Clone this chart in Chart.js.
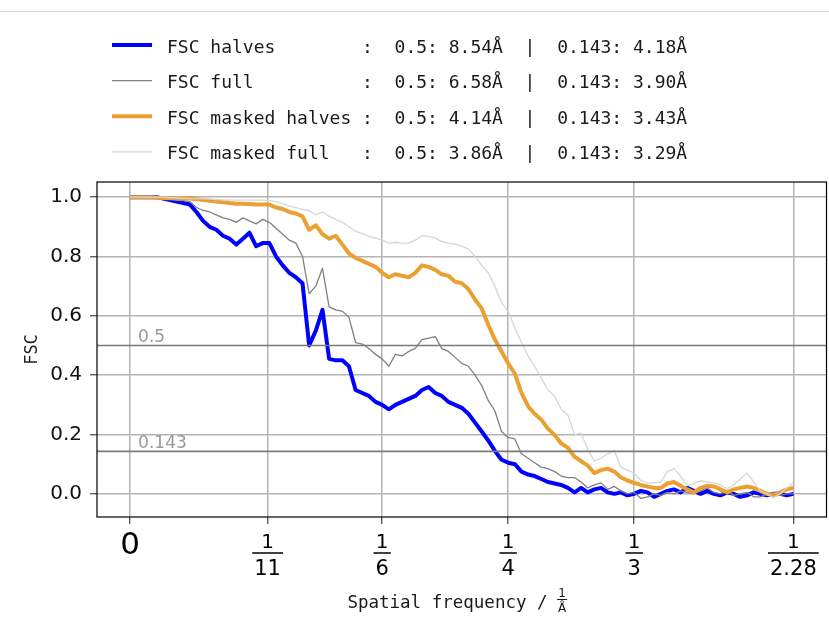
<!DOCTYPE html>
<html>
<head>
<meta charset="utf-8">
<script src="https://cdn.jsdelivr.net/npm/chart.js@4.4.0/dist/chart.umd.min.js"></script>
<style>
  html, body { margin: 0; padding: 0; background: #fff; }
  #wrap { position: relative; width: 829px; height: 628px; }
  #topline { position: absolute; left: 0; top: 11px; width: 829px; height: 1px; background: #d4d4d4; }
  canvas { display: block; }
</style>
</head>
<body>
<div id="wrap">
  <div id="topline"></div>
  <canvas id="fscChart" width="829" height="628"></canvas>
</div>
<script>
// Spatial frequency (1/Å) of each shell
const freq = [
    0, 0.0044, 0.0088, 0.0132, 0.0175, 0.0219, 0.0263, 0.0307, 0.0351, 0.0395,
    0.0439, 0.0482, 0.0526, 0.0570, 0.0614, 0.0658, 0.0702, 0.0746, 0.0789, 0.0833,
    0.0877, 0.0921, 0.0965, 0.1009, 0.1053, 0.1096, 0.1140, 0.1184, 0.1228, 0.1272,
    0.1316, 0.1360, 0.1404, 0.1447, 0.1491, 0.1535, 0.1579, 0.1623, 0.1667, 0.1711,
    0.1754, 0.1798, 0.1842, 0.1886, 0.1930, 0.1974, 0.2018, 0.2061, 0.2105, 0.2149,
    0.2193, 0.2237, 0.2281, 0.2325, 0.2368, 0.2412, 0.2456, 0.2500, 0.2544, 0.2588,
    0.2632, 0.2675, 0.2719, 0.2763, 0.2807, 0.2851, 0.2895, 0.2939, 0.2982, 0.3026,
    0.3070, 0.3114, 0.3158, 0.3202, 0.3246, 0.3289, 0.3333, 0.3377, 0.3421, 0.3465,
    0.3509, 0.3553, 0.3596, 0.3640, 0.3684, 0.3728, 0.3772, 0.3816, 0.3860, 0.3903,
    0.3947, 0.3991, 0.4035, 0.4079, 0.4123, 0.4167, 0.4211, 0.4254, 0.4298, 0.4342,
    0.4386
];

const fscHalves = [
    1.0, 1.0, 1.0, 1.0, 1.0, 0.995, 0.99, 0.985, 0.98, 0.975,
    0.95, 0.92, 0.90, 0.89, 0.87, 0.86, 0.84, 0.86, 0.88, 0.835,
    0.845, 0.845, 0.80, 0.77, 0.745, 0.73, 0.71, 0.50, 0.55, 0.62,
    0.455, 0.45, 0.45, 0.43, 0.35, 0.34, 0.33, 0.31, 0.30, 0.285,
    0.30, 0.31, 0.32, 0.33, 0.35, 0.36, 0.34, 0.33, 0.31, 0.30,
    0.29, 0.27, 0.24, 0.21, 0.18, 0.145, 0.115, 0.105, 0.10, 0.075,
    0.065, 0.06, 0.05, 0.04, 0.035, 0.03, 0.02, 0.005, 0.02, 0.005,
    0.015, 0.02, 0.005, 0.0, 0.005, -0.005, 0.0, 0.01, 0.005, -0.01,
    0.0, 0.01, 0.015, 0.005, 0.02, 0.01, 0.0, 0.01, 0.0, -0.005,
    0.005, 0.0, -0.01, -0.005, 0.005, 0.0, -0.005, 0.0, 0.0, -0.005,
    0.0
];

const fscFull = [
    1.0, 1.0, 1.0, 1.0, 1.0, 0.998, 0.995, 0.99, 0.988, 0.985,
    0.965, 0.955, 0.95, 0.94, 0.93, 0.925, 0.915, 0.93, 0.92, 0.91,
    0.925, 0.915, 0.895, 0.875, 0.855, 0.845, 0.80, 0.675, 0.70, 0.76,
    0.63, 0.62, 0.615, 0.595, 0.51, 0.505, 0.49, 0.47, 0.455, 0.43,
    0.47, 0.465, 0.48, 0.49, 0.52, 0.525, 0.53, 0.49, 0.48, 0.46,
    0.44, 0.43, 0.40, 0.365, 0.315, 0.28, 0.21, 0.19, 0.185, 0.135,
    0.12, 0.105, 0.09, 0.085, 0.075, 0.06, 0.055, 0.055, 0.04, 0.02,
    0.03, 0.037, 0.015, 0.025, 0.01, 0.0, 0.005, -0.015, -0.01, 0.0,
    -0.005, 0.005, 0.0, 0.01, 0.005, 0.0, 0.01, 0.02, 0.005, 0.0,
    0.01, -0.005, 0.0, 0.005, -0.01, -0.01, 0.0, 0.005, -0.005, 0.0,
    0.0
];

const fscMaskedHalves = [
    1.0, 1.0, 1.0, 1.0, 0.998, 0.997, 0.996, 0.995, 0.995, 0.995,
    0.993, 0.99, 0.988, 0.985, 0.983, 0.98, 0.978, 0.978, 0.977, 0.975,
    0.975, 0.975, 0.965, 0.96, 0.95, 0.945, 0.935, 0.89, 0.905, 0.875,
    0.86, 0.87, 0.84, 0.81, 0.795, 0.785, 0.775, 0.765, 0.745, 0.73,
    0.74, 0.735, 0.73, 0.745, 0.77, 0.765, 0.755, 0.74, 0.735, 0.715,
    0.71, 0.69, 0.655, 0.625, 0.57, 0.52, 0.48, 0.44, 0.405, 0.34,
    0.295, 0.27, 0.25, 0.22, 0.198, 0.17, 0.155, 0.125, 0.11, 0.095,
    0.07, 0.08, 0.085, 0.075, 0.055, 0.045, 0.037, 0.03, 0.025, 0.02,
    0.02, 0.035, 0.04, 0.027, 0.015, 0.005, 0.02, 0.027, 0.025, 0.015,
    0.005, 0.015, 0.02, 0.025, 0.02, 0.01, 0.0, -0.005, 0.005, 0.015,
    0.02
];

const fscMaskedFull = [
    1.0, 1.0, 1.0, 1.0, 1.0, 0.999, 0.998, 0.997, 0.996, 0.995,
    0.995, 0.994, 0.993, 0.992, 0.991, 0.99, 0.99, 0.99, 0.99, 0.99,
    0.99, 0.988, 0.985, 0.978, 0.97, 0.965, 0.958, 0.955, 0.94, 0.95,
    0.935, 0.925, 0.915, 0.90, 0.885, 0.878, 0.868, 0.862, 0.855, 0.845,
    0.848, 0.845, 0.845, 0.855, 0.87, 0.868, 0.862, 0.85, 0.845, 0.842,
    0.835, 0.825, 0.80, 0.77, 0.745, 0.70, 0.645, 0.615, 0.56, 0.51,
    0.465, 0.43, 0.39, 0.35, 0.33, 0.285, 0.265, 0.20, 0.205, 0.15,
    0.11, 0.12, 0.135, 0.145, 0.09, 0.08, 0.07, 0.045, 0.037, 0.037,
    0.04, 0.075, 0.085, 0.06, 0.028, 0.035, 0.044, 0.04, 0.037, 0.03,
    0.017, 0.03, 0.05, 0.07, 0.04, 0.01, 0.0, -0.013, 0.0, 0.02,
    0.037
];

// Legend text
const seriesNames = ['FSC halves', 'FSC full', 'FSC masked halves', 'FSC masked full'];
const res05 = ['8.54', '6.58', '4.14', '3.86'];
const res0143 = ['4.18', '3.90', '3.43', '3.29'];

// Threshold lines
const thresholds = [0.5, 0.143];
const thresholdLabels = ['0.5', '0.143'];

// Axis ticks
const xTickValues = [0, 1 / 11, 1 / 6, 1 / 4, 1 / 3, 1 / 2.28];
const xTickNum = ['0', '1', '1', '1', '1', '1'];
const xTickDen = ['', '11', '6', '4', '3', '2.28'];
const yTickValues = [0, 0.2, 0.4, 0.6, 0.8, 1.0];

const X_MIN = -0.0219, X_MAX = 0.4605;
const Y_MIN = -0.078, Y_MAX = 1.051;

function toPoints(ys) {
    return ys.map((y, i) => ({ x: freq[i], y: y }));
}

function curve(idx, ys, color, width, order) {
    return {
        label: seriesNames[idx],
        data: toPoints(ys),
        borderColor: color,
        backgroundColor: color,
        borderWidth: width,
        borderJoinStyle: 'round',
        pointRadius: 0,
        tension: 0,
        order: order,
        legendRow: idx
    };
}

const datasets = [
    curve(0, fscHalves, '#0000ff', 4, 4),
    curve(1, fscFull, '#808080', 1.3, 3),
    curve(2, fscMaskedHalves, '#eaa132', 4, 2),
    curve(3, fscMaskedFull, '#d6d6d6', 1.3, 1)
];
thresholds.forEach((t, k) => {
    datasets.push({
        label: thresholdLabels[k],
        data: [{ x: X_MIN, y: t }, { x: X_MAX, y: t }],
        borderColor: '#7a7a7a',
        borderWidth: 1.7,
        pointRadius: 0,
        order: 0,
        threshold: true
    });
});

// Draws legend, frame, fraction tick labels, axis title and threshold labels
const fscDecor = {
    id: 'fscDecor',
    afterDraw(chart) {
        const ctx = chart.ctx;
        const area = chart.chartArea;
        const xs = chart.scales.x;
        const ys = chart.scales.y;
        ctx.save();

        // frame
        ctx.strokeStyle = '#000';
        ctx.lineWidth = 1.2;
        ctx.strokeRect(area.left, area.top, area.right - area.left, area.bottom - area.top);

        // threshold labels
        ctx.fillStyle = '#9a9a9a';
        ctx.font = '17px "DejaVu Sans"';
        ctx.textAlign = 'left';
        ctx.textBaseline = 'alphabetic';
        thresholds.forEach((t, k) => {
            ctx.fillText(thresholdLabels[k], xs.getPixelForValue(0) + 8, ys.getPixelForValue(t) - 3.5);
        });

        // legend
        chart.data.datasets.forEach(ds => {
            if (ds.legendRow === undefined) return;
            const k = ds.legendRow;
            const y = 45 + k * 35.6;
            ctx.strokeStyle = ds.borderColor;
            ctx.lineWidth = ds.borderWidth;
            ctx.beginPath();
            ctx.moveTo(112, y);
            ctx.lineTo(152, y);
            ctx.stroke();
            const text = seriesNames[k].padEnd(17) + ' :  0.5: ' + res05[k] + 'Å  |  0.143: ' + res0143[k] + 'Å';
            ctx.fillStyle = '#1a1a1a';
            ctx.font = '18px "DejaVu Sans Mono"';
            ctx.textAlign = 'left';
            ctx.fillText(text, 167, y + 7.5);
        });

        // x tick labels as fractions
        const base = area.bottom;
        ctx.fillStyle = '#000';
        ctx.strokeStyle = '#000';
        ctx.textAlign = 'center';
        xTickValues.forEach((v, i) => {
            const px = xs.getPixelForValue(v);
            if (!xTickDen[i]) {
                ctx.font = '31px "DejaVu Sans"';
                ctx.fillText(xTickNum[i], px, base + 37);
                return;
            }
            ctx.font = '20px "DejaVu Sans"';
            ctx.fillText(xTickNum[i], px, base + 30.5);
            ctx.font = '21px "DejaVu Sans"';
            const w = ctx.measureText(xTickDen[i]).width + 4;
            ctx.fillText(xTickDen[i], px, base + 57.5);
            ctx.lineWidth = 1.5;
            ctx.beginPath();
            ctx.moveTo(px - w / 2, base + 36);
            ctx.lineTo(px + w / 2, base + 36);
            ctx.stroke();
        });

        // x axis title with 1/Å fraction
        const title = 'Spatial frequency / ';
        ctx.font = '17.5px "DejaVu Sans Mono"';
        const tw = ctx.measureText(title).width;
        const fw = 12;
        const cx = (area.left + area.right) / 2;
        const x0 = cx - (tw + fw) / 2 - 3;
        ctx.textAlign = 'left';
        ctx.fillStyle = '#1a1a1a';
        ctx.fillText(title, x0, 607.5);
        const fx = x0 + tw + fw / 2 - 2;
        ctx.textAlign = 'center';
        ctx.font = '12px "DejaVu Sans"';
        ctx.fillText('1', fx, 597);
        ctx.fillText('Å', fx, 612);
        ctx.lineWidth = 1;
        ctx.strokeStyle = '#1a1a1a';
        ctx.beginPath();
        ctx.moveTo(fx - 5, 599.5);
        ctx.lineTo(fx + 5, 599.5);
        ctx.stroke();

        ctx.restore();
    }
};

const gridStyle = {
    color: '#b4b4b4',
    lineWidth: 1.5,
    tickLength: 7,
    tickColor: '#444',
    tickWidth: 1.2
};

new Chart(document.getElementById('fscChart'), {
    type: 'line',
    data: { datasets: datasets },
    options: {
        responsive: false,
        animation: false,
        layout: { padding: { top: 182, right: 2.5, left: 0, bottom: 0 } },
        plugins: {
            legend: { display: false },
            tooltip: { enabled: false }
        },
        scales: {
            x: {
                type: 'linear',
                min: X_MIN,
                max: X_MAX,
                afterBuildTicks: s => { s.ticks = xTickValues.map(v => ({ value: v })); },
                afterFit: s => { s.height = 111; },
                ticks: { display: false },
                grid: gridStyle,
                border: { display: false }
            },
            y: {
                type: 'linear',
                min: Y_MIN,
                max: Y_MAX,
                afterBuildTicks: s => { s.ticks = yTickValues.map(v => ({ value: v })); },
                afterFit: s => { s.width = 97; },
                ticks: {
                    font: { family: 'DejaVu Sans', size: 20 },
                    color: '#111',
                    padding: 8,
                    callback: v => v.toFixed(1)
                },
                grid: gridStyle,
                border: { display: false },
                title: {
                    display: true,
                    text: 'FSC',
                    font: { family: 'DejaVu Sans Mono', size: 17 },
                    color: '#222',
                    padding: { top: 22, bottom: 0 }
                }
            }
        }
    },
    plugins: [fscDecor]
});
</script>
</body>
</html>
